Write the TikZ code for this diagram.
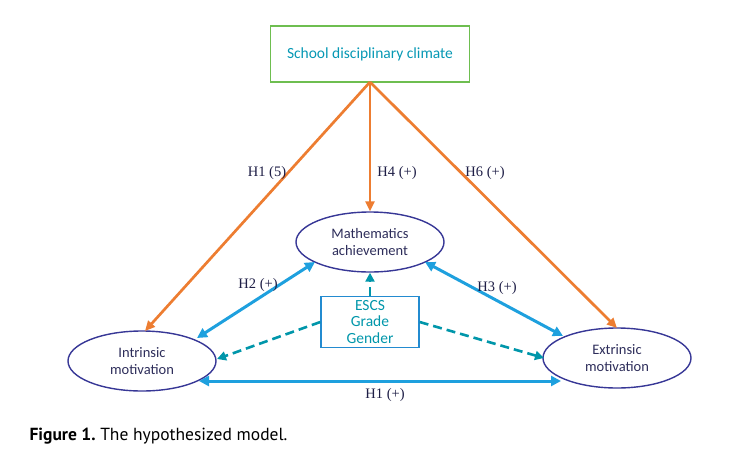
\documentclass[tikz,border=0pt]{standalone}
\usepackage{fontspec}
\setmainfont{Liberation Serif}
\newfontfamily\calfont{Carlito}
\newfontfamily\capfont{PT Sans}
\usetikzlibrary{shapes.geometric, arrows.meta}

\definecolor{climorange}{RGB}{237,125,49}
\definecolor{pathblue}{RGB}{30,160,222}
\definecolor{ctrlteal}{RGB}{0,150,170}
\definecolor{ovalnavy}{RGB}{55,55,150}
\definecolor{boxgreen}{RGB}{110,190,80}
\definecolor{textnavy}{RGB}{45,45,90}
\definecolor{labelnavy}{RGB}{30,30,70}

\tikzset{
    latent/.style={ellipse, draw=ovalnavy, line width=1.4pt, inner sep=0pt,
        minimum width=148pt, minimum height=60pt, align=center,
        text=textnavy, font=\calfont\fontsize{14.5}{16.5}\selectfont},
    orangepath/.style={draw=climorange, line width=2.7pt,
        -{Triangle[length=10pt, width=9pt]}},
    bluepath/.style={draw=pathblue, line width=3pt,
        {Triangle[length=10pt, width=10pt]}-{Triangle[length=10pt, width=10pt]}},
    ctrlpath/.style={draw=ctrlteal, line width=2.6pt, dash pattern=on 9pt off 5pt,
        -{Triangle[length=9pt, width=9pt]}},
    hyp/.style={text=labelnavy, font=\fontsize{14.5}{16}\selectfont}
}

\begin{document}
\begin{tikzpicture}[x=1pt, y=-1pt]
        \useasboundingbox (0,0) rectangle (749,456);

        \node[draw=boxgreen, line width=1.4pt, minimum width=199pt, minimum height=56pt,
            text=ctrlteal!80!pathblue, font=\calfont\fontsize{15.5}{17}\selectfont]
            (climate) at (370,54) {School disciplinary climate};

        \node[latent] (math) at (370,242) {Mathematics\\achievement};
        \node[latent] (intr) at (142,361) {Intrinsic\\motivation};
        \node[latent] (extr) at (617,358) {Extrinsic\\motivation};

        \node[draw=pathblue!80!ovalnavy, line width=1.4pt, minimum width=98pt, minimum height=51pt,
            inner sep=0pt, align=center, text=ctrlteal,
            font=\calfont\fontsize{15.5}{16.5}\selectfont]
            (ctrl) at (370,322) {ESCS\\Grade\\Gender};

        % anchor points on the ovals
        \coordinate (cb) at (370,82);
        \coordinate (intrtop) at (145,331);
        \coordinate (extrtop) at (617,328);
        \coordinate (mathl) at (315,262);
        \coordinate (mathr) at (425,262);
        \coordinate (intrr) at (197,338);
        \coordinate (extrl) at (563,336);
        \coordinate (intrb) at (199,381);
        \coordinate (extrb) at (561,381);
        \coordinate (intrm) at (217,359);
        \coordinate (extrm) at (544,358);

        % climate paths
        \draw[orangepath] (cb) -- (intrtop);
        \draw[orangepath] (cb) -- (math.north);
        \draw[orangepath] (cb) -- (extrtop);

        % motivation paths
        \draw[bluepath] (mathl) -- (intrr);
        \draw[bluepath] (mathr) -- (extrl);
        \draw[bluepath] (intrb) -- (extrb);

        % controls
        \draw[ctrlpath] (ctrl.north) -- (math.south);
        \draw[ctrlpath] (ctrl.west |- 0,322) -- (intrm);
        \draw[ctrlpath] (ctrl.east |- 0,322) -- (extrm);

        \node[hyp] (h1a) at (267,173) {H1 (5)};
        \node[hyp] (h4) at (397,173) {H4 (+)};
        \node[hyp] (h6) at (485,173) {H6 (+)};
        \node[hyp] (h2) at (258,285) {H2 (+)};
        \node[hyp] (h3) at (497,288) {H3 (+)};
        \node[hyp] (h1b) at (385,395) {H1 (+)};

        \node[anchor=west, font=\capfont\fontsize{17.5}{19}\selectfont] (caption) at (26,436)
            {\textbf{Figure 1.}\ The hypothesized model.};
    \end{tikzpicture}
\end{document}
